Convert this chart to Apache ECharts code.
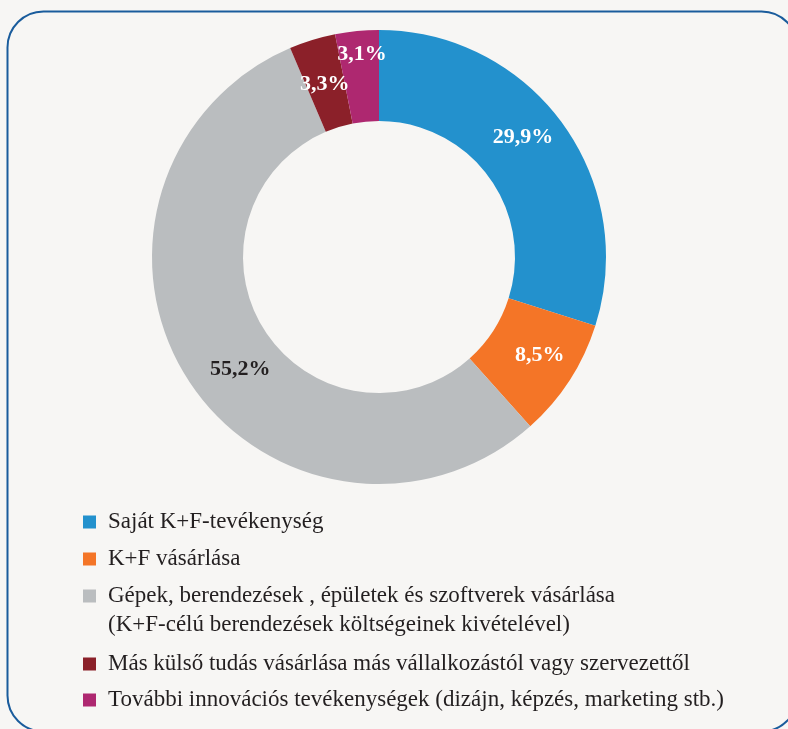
<!DOCTYPE html>
<html>
<head>
<meta charset="utf-8">
<script src="https://cdn.jsdelivr.net/npm/echarts@6/dist/echarts.min.js"></script>
<style>
  html, body { margin: 0; padding: 0; background: #f7f6f4; }
  #chart { width: 788px; height: 729px; }
</style>
</head>
<body>
<div id="chart"></div>
<script>
// Innovációs ráfordítások megoszlása (%)
const categories = [
  'Saját K+F-tevékenység',
  'K+F vásárlása',
  'Gépek, berendezések , épületek és szoftverek vásárlása\n(K+F-célú berendezések költségeinek kivételével)',
  'Más külső tudás vásárlása más vállalkozástól vagy szervezettől',
  'További innovációs tevékenységek (dizájn, képzés, marketing stb.)'
];
const shares = [29.9, 8.5, 55.2, 3.3, 3.1];
const colors = ['#2391cd', '#f47527', '#babdbf', '#8b2029', '#ae2870'];
const labelColors = ['#ffffff', '#ffffff', '#231f20', '#ffffff', '#ffffff'];

// small nudges so labels sit where the original puts them
const labelNudge = [[-5, -11], [6, -2], [17, 13], [0, 4], [1, -19]];
const legendRowY = [522, 559, 596, 664, 700];

const serif = '"Liberation Serif", "DejaVu Serif", serif';
const chart = echarts.init(document.getElementById('chart'));

const legendItems = [];
categories.forEach((name, i) => {
  legendItems.push({
    type: 'rect',
    shape: { x: 83, y: legendRowY[i] - 6.5, width: 13, height: 13 },
    style: { fill: colors[i] }
  });
  legendItems.push({
    type: 'text',
    x: 108,
    y: legendRowY[i] - 14.5,
    style: {
      text: name,
      fill: '#231f20',
      font: '23px ' + serif,
      lineHeight: 29,
      verticalAlign: 'top'
    }
  });
});

chart.setOption({
  backgroundColor: '#f7f6f4',
  animation: false,
  graphic: [
    {
      type: 'rect',
      z: -1,
      shape: { x: 7.5, y: 11.5, width: 790, height: 720, r: 36 },
      style: { fill: 'none', stroke: '#1a5c9c', lineWidth: 2 }
    },
    ...legendItems
  ],
  series: [{
    type: 'pie',
    center: [379, 257],
    radius: [136, 227],
    startAngle: 90,
    clockwise: true,
    silent: true,
    label: {
      position: 'inside',
      fontFamily: serif,
      fontWeight: 'bold',
      fontSize: 22,
      formatter: (p) => String(p.value).replace('.', ',') + '%'
    },
    labelLine: { show: false },
    labelLayout: (p) => ({ dx: labelNudge[p.dataIndex][0], dy: labelNudge[p.dataIndex][1] }),
    data: shares.map((v, i) => ({
      value: v,
      name: categories[i],
      itemStyle: { color: colors[i] },
      label: { color: labelColors[i] }
    }))
  }]
});
</script>
</body>
</html>
